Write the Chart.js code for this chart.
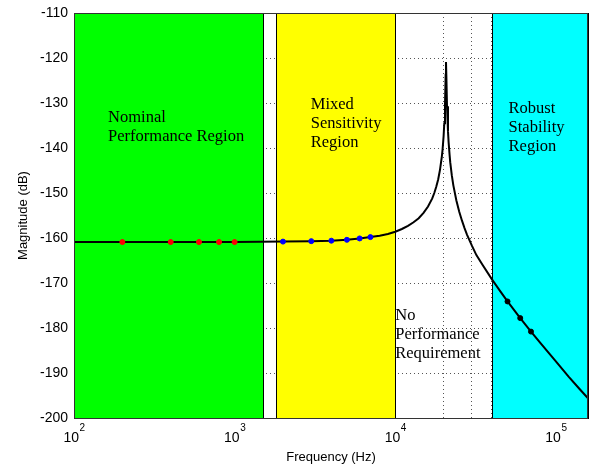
<!DOCTYPE html>
<html>
<head>
<meta charset="utf-8">
<script src="https://cdn.jsdelivr.net/npm/chart.js@4.4.0/dist/chart.umd.min.js"></script>
<style>
  html, body { margin: 0; padding: 0; background: #fff; }
</style>
</head>
<body>
<canvas id="c" width="589" height="467"></canvas>
<script>
// frequency response (Hz, dB)
const freq = [100, 200, 400, 600, 800, 1000, 2000, 3000, 4000, 5000, 6000, 7000, 8000, 9000,
  10000, 11000, 12000, 13000, 14000, 15000, 16000, 17000, 17500, 18000, 18500, 19000, 19500,
  19700, 20000, 20200, 20400, 20600, 20700, 20800, 21000, 21300, 21500, 21800, 22000, 22500,
  23000, 24000, 25000, 26000, 27000, 28000, 30000, 32000, 35000, 40000, 45000, 50000, 60000,
  70000, 80000, 100000, 120000, 140000, 158500];
const mag = [-160.9, -160.9, -160.9, -160.9, -160.9, -160.9, -160.8, -160.7, -160.6, -160.4, -160.1, -159.8, -159.5, -159.1,
  -158.6, -158.0, -157.3, -156.5, -155.6, -154.4, -153.0, -151.2, -150.0, -148.6, -147.0, -144.8, -141.9,
  -140.4, -137.4, -134.5, -130.6, -123.7, -120.9, -123.8, -130.7, -136.3, -138.8, -141.6, -143.2, -146.1,
  -148.3, -151.6, -154.1, -156.1, -157.8, -159.3, -161.7, -163.8, -166.0, -169.2, -171.8, -174.1, -177.8,
  -180.8, -183.3, -187.4, -190.8, -193.5, -195.6];

// design points
const nominalFreq = [200, 400, 600, 800, 1000];
const nominalMag = [-160.9, -160.9, -160.9, -160.9, -160.9];
const mixedFreq = [2000, 3000, 4000, 5000, 6000, 7000];
const mixedMag = [-160.8, -160.7, -160.6, -160.4, -160.1, -159.8];
const robustFreq = [50000, 60000, 70000];
const robustMag = [-174.1, -177.8, -180.8];

// frequency bands
const bandStart = [100, 1800, 10000, 40000];
const bandEnd = [1500, 10000, 40000, 158500];
const bandColors = ['#00ff00', '#ffff00', null, '#00ffff'];
const bandNames = [
  ['Nominal', 'Performance Region'],
  ['Mixed', 'Sensitivity', 'Region'],
  ['No', 'Performance', 'Requirement'],
  ['Robust', 'Stability', 'Region']
];

// axes
const xDecades = [2, 3, 4, 5];
const xGrid = [100, 200, 300, 400, 500, 600, 700, 800, 900, 1000, 2000, 3000, 4000, 5000, 6000,
  7000, 8000, 9000, 10000, 20000, 30000, 40000, 50000, 60000, 70000, 80000, 90000, 100000];

const FONT = '"Liberation Sans", Arial, sans-serif';
// where each band label starts (Hz, dB of first baseline)
const labelAnchors = [[163, -134.2], [2980, -131.3], [10000, -178.3], [50760, -132.2]];

const pts = (xs, ys) => xs.map((x, i) => ({x: x, y: ys[i]}));

const bands = {
  id: 'bands',
  beforeDatasetsDraw(chart) {
    const {ctx, chartArea: a, scales: {x, y}} = chart;
    ctx.save();
    bandStart.forEach((s, i) => {
      if (!bandColors[i]) return;
      const x1 = Math.round(x.getPixelForValue(s));
      const x2 = Math.round(x.getPixelForValue(bandEnd[i]));
      ctx.fillStyle = bandColors[i];
      ctx.fillRect(x1, a.top, x2 - x1, a.bottom - a.top);
      ctx.strokeStyle = '#000';
      ctx.lineWidth = 1;
      ctx.strokeRect(x1 + 0.5, a.top + 0.5, x2 - x1, a.bottom - a.top);
    });
    ctx.fillStyle = '#000';
    ctx.font = '16.5px "Liberation Serif", "Times New Roman", serif';
    ctx.textBaseline = 'alphabetic';
    bandNames.forEach((lines, i) => {
      const px = x.getPixelForValue(labelAnchors[i][0]);
      const py = y.getPixelForValue(labelAnchors[i][1]);
      lines.forEach((t, k) => ctx.fillText(t, px, py + k * 19));
    });
    ctx.restore();
  },
  afterDraw(chart) {
    const {ctx, chartArea: a, scales: {x}} = chart;
    ctx.save();
    ctx.strokeStyle = '#333';
    ctx.lineWidth = 1;
    ctx.strokeRect(Math.round(a.left) + 0.5, Math.round(a.top) + 0.5,
      Math.round(a.right - a.left) - 1, Math.round(a.bottom - a.top));
    // decade labels 10^n
    ctx.fillStyle = '#000';
    ctx.textBaseline = 'alphabetic';
    xDecades.forEach(e => {
      const px = x.getPixelForValue(Math.pow(10, e));
      ctx.font = '14px ' + FONT;
      const w1 = ctx.measureText('10').width;
      ctx.font = '10px ' + FONT;
      const w2 = ctx.measureText(String(e)).width;
      const x0 = px - (w1 + w2) / 2;
      ctx.font = '14px ' + FONT;
      ctx.fillText('10', x0, a.bottom + 24);
      ctx.font = '10px ' + FONT;
      ctx.fillText(String(e), x0 + w1 + 0.5, a.bottom + 13);
    });
    ctx.restore();
  }
};

new Chart(document.getElementById('c').getContext('2d'), {
  type: 'scatter',
  data: {
    datasets: [
      {data: pts(nominalFreq, nominalMag), pointRadius: 2.5, pointBackgroundColor: '#ff0000', pointBorderColor: '#ff0000', showLine: false},
      {data: pts(mixedFreq, mixedMag), pointRadius: 2.5, pointBackgroundColor: '#0000ff', pointBorderColor: '#0000ff', showLine: false},
      {data: pts(robustFreq, robustMag), pointRadius: 2.5, pointBackgroundColor: '#000', pointBorderColor: '#000', showLine: false},
      {data: pts(freq, mag), showLine: true, borderColor: '#000', borderWidth: 2, pointRadius: 0, tension: 0}
    ]
  },
  options: {
    responsive: false,
    animation: false,
    events: [],
    layout: {autoPadding: false, padding: {top: 13, right: 1, left: 0, bottom: 0}},
    plugins: {legend: {display: false}, tooltip: {enabled: false}},
    scales: {
      x: {
        type: 'logarithmic',
        min: 100,
        max: 158500,
        afterBuildTicks: s => { s.ticks = xGrid.map(v => ({value: v})); },
        afterFit: s => { s.height = 49; s.paddingLeft = 0; s.paddingRight = 0; },
        ticks: {display: false},
        grid: {color: '#555', drawTicks: false},
        border: {display: false, dash: [1, 3]},
        title: {display: true, text: 'Frequency (Hz)', color: '#000', font: {family: FONT, size: 13}, padding: {top: 0, bottom: 2}}
      },
      y: {
        min: -200,
        max: -110,
        afterFit: s => { s.width = 74; s.paddingTop = 0; s.paddingBottom = 0; },
        ticks: {stepSize: 10, color: '#000', padding: 6, font: {family: FONT, size: 14}},
        grid: {color: '#555', drawTicks: false},
        border: {display: false, dash: [1, 3]},
        title: {display: true, text: 'Magnitude (dB)', color: '#000', font: {family: FONT, size: 13}, padding: {top: 16, bottom: 0}}
      }
    }
  },
  plugins: [bands]
});
</script>
</body>
</html>
